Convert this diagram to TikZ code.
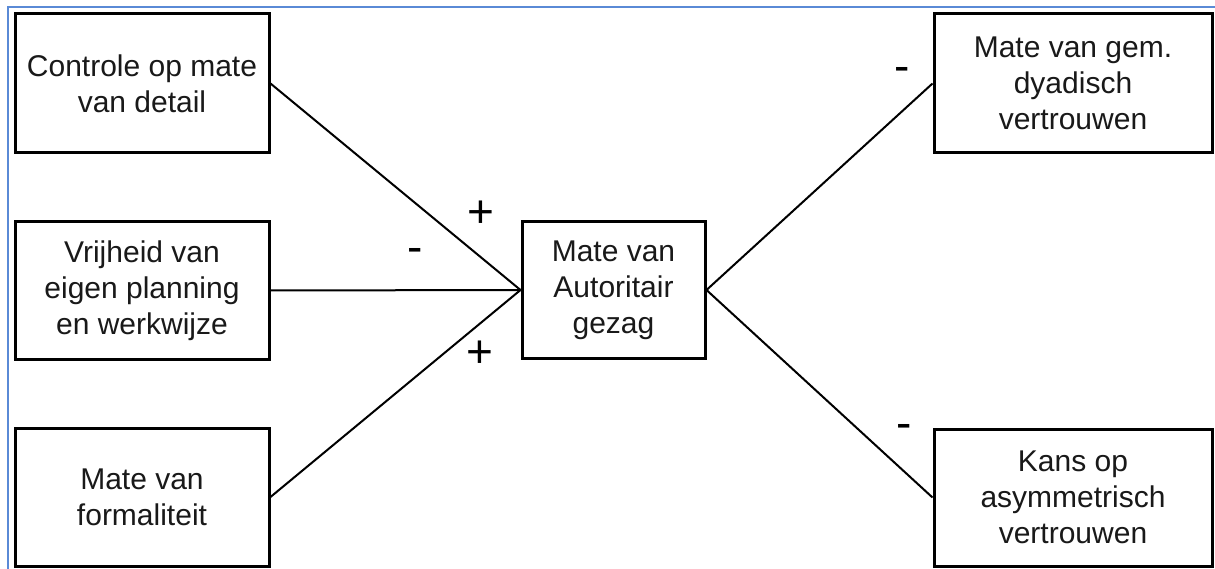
\documentclass[tikz,border=0pt]{standalone}
\usepackage{fontspec}
\setmainfont{Liberation Sans}
\definecolor{frameblue}{RGB}{90,138,214}
\begin{document}
\begin{tikzpicture}[x=1pt,y=-1pt,
  box/.style={draw=black,line width=3pt,align=center,inner sep=0pt,
    font=\fontsize{30}{36}\selectfont,text=black!90},
  conn/.style={line width=2pt,black},
  sign/.style={font=\fontsize{46}{46}\selectfont,inner sep=0pt}]
\useasboundingbox (0,0) rectangle (1215,569);
\fill[white] (0,0) rectangle (1215,569);
\draw[frameblue,line width=1.5pt] (8,569) -- (8,7) -- (1215,7);
\node[box,minimum width=254pt,minimum height=139pt] (a) at (142,83.5) {Controle op mate\\van detail};
\node[box,minimum width=254pt,minimum height=137pt] (b) at (142,290.5) {Vrijheid van\\eigen planning\\en werkwijze};
\node[box,minimum width=254pt,minimum height=138pt] (c) at (142,497) {Mate van\\formaliteit};
\node[box,minimum width=183pt,minimum height=136pt] (m) at (613.5,290) {Mate van\\Autoritair\\gezag};
\node[box,minimum width=278pt,minimum height=139pt] (d) at (1073,83.5) {Mate van gem.\\dyadisch\\vertrouwen};
\node[box,minimum width=278pt,minimum height=137pt] (e) at (1073,497.5) {Kans op\\asymmetrisch\\vertrouwen};
\draw[conn] (a.east) -- (m.west);
\draw[conn] (b.east) -- (m.west);
\draw[conn] (c.east) -- (m.west);
\draw[conn] (m.east) -- (d.west);
\draw[conn] (m.east) -- (e.west);
\node[sign] (s1) at (481,214) {+};
\node[sign] (s2) at (415,255) {-};
\node[sign] (s3) at (480,354) {+};
\node[sign] (s4) at (902,74) {-};
\node[sign] (s5) at (904,431) {-};
\end{tikzpicture}
\end{document}
